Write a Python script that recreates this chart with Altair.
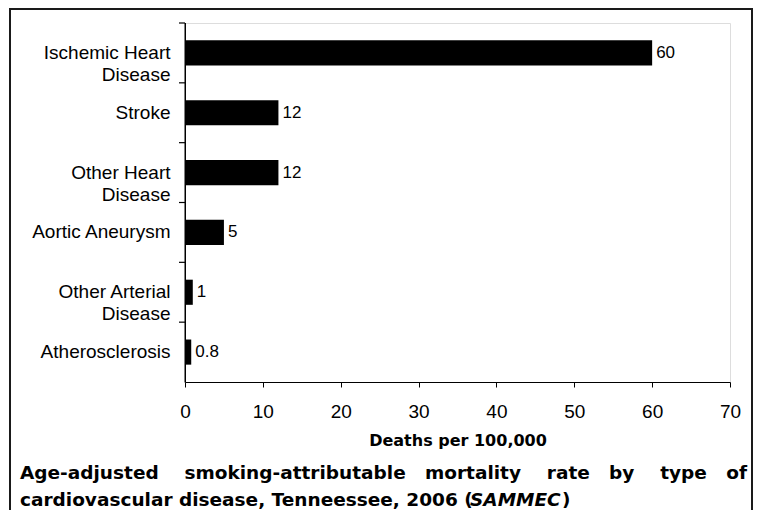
import altair as alt
import pandas as pd

categories = ["Ischemic Heart|Disease", "Stroke", "Other Heart|Disease",
              "Aortic Aneurysm", "Other Arterial|Disease", "Atherosclerosis"]
rates = [60, 12, 12, 5, 1, 0.8]
x_ticks = [0, 10, 20, 30, 40, 50, 60, 70]

x_title = "Deaths per 100,000"
title_line1 = ("Age-adjusted\u00a0\u00a0\u00a0\u00a0smoking-attributable\u00a0\u00a0\u00a0mortality"
               "\u00a0\u00a0\u00a0\u00a0rate\u00a0\u00a0\u00a0by\u00a0\u00a0\u00a0\u00a0type\u00a0\u00a0\u00a0of")
title_line2_a = "cardiovascular disease, Tenneessee, 2006 ("
title_line2_b = "SAMMEC"
title_line2_c = ")"

df = pd.DataFrame({"cause": categories, "rate": rates})
one = alt.Data(values=[{"k": 1}])

FONT = "Liberation Sans"
TFONT = "DejaVu Sans"

PLOT_H = 359
N = len(categories)
P_IN = 0.58
STEP = PLOT_H / N

y_scale = alt.Scale(paddingInner=P_IN, paddingOuter=P_IN / 2)

y_enc = alt.Y(
    "cause:N", sort=None, title=None, scale=y_scale,
    axis=alt.Axis(
        labelExpr="split(datum.label, '|')", labelFont=FONT, labelFontSize=19,
        labelColor="black", labelLineHeight=22, labelPadding=15, ticks=False,
        domain=False, labelAlign="right", labelBaseline="middle", grid=False,
    ),
)
x_enc = alt.X(
    "rate:Q", title=x_title,
    scale=alt.Scale(domain=[0, 70], nice=False),
    axis=alt.Axis(
        values=x_ticks, labelFont=FONT, labelFontSize=19, labelColor="black",
        labelPadding=15, tickSize=5, tickColor="black", domainColor="black",
        titleFont=TFONT, titleFontSize=16, titleFontWeight="bold", titleColor="black",
        titleY=63, titleBaseline="alphabetic", grid=False, labelFlush=False,
    ),
)

bars = alt.Chart(df).mark_bar(color="black").encode(y=y_enc, x=x_enc)
labels = alt.Chart(df).mark_text(
    align="left", baseline="middle", dx=4, font=FONT, fontSize=17, color="black"
).encode(y=alt.Y("cause:N", sort=None), x="rate:Q", text=alt.Text("rate:Q", format=".1~f"))

# y-axis line (thin filled rect) and category separator ticks
y_domain = alt.Chart(one).mark_rect(color="black", strokeWidth=0).encode(
    x=alt.value(-0.5), x2=alt.value(1), y=alt.value(0), y2=alt.value(PLOT_H + 0.5)
)
y_ticks = alt.Chart(df).mark_rule(color="black", strokeWidth=1.2, yOffset=-STEP * P_IN / 2).encode(
    y=alt.Y("cause:N", sort=None, bandPosition=0), x=alt.value(-6), x2=alt.value(0)
)

border = alt.Chart(one).mark_rect(
    fill="white", fillOpacity=0, stroke="#1a1a1a", strokeWidth=2
).encode(x=alt.value(-175), x2=alt.value(567), y=alt.value(-14), y2=alt.value(510))

t1 = alt.Chart(one).mark_text(
    align="left", baseline="alphabetic", font=TFONT, fontSize=18.5, fontWeight="bold", color="black"
).encode(x=alt.value(-165), y=alt.value(456), text=alt.value(title_line1))
t2a = alt.Chart(one).mark_text(
    align="left", baseline="alphabetic", font=TFONT, fontSize=18.5, fontWeight="bold", color="black"
).encode(x=alt.value(-165), y=alt.value(483), text=alt.value(title_line2_a))
t2b = alt.Chart(one).mark_text(
    align="left", baseline="alphabetic", font=TFONT, fontSize=18.5, fontWeight="bold",
    fontStyle="italic", color="black"
).encode(x=alt.value(285), y=alt.value(483), text=alt.value(title_line2_b))
t2c = alt.Chart(one).mark_text(
    align="left", baseline="alphabetic", font=TFONT, fontSize=18.5, fontWeight="bold", color="black"
).encode(x=alt.value(377), y=alt.value(483), text=alt.value(title_line2_c))

chart = alt.layer(bars, labels, y_domain, y_ticks, border, t1, t2a, t2b, t2c).properties(
    width=545, height=PLOT_H,
    autosize=alt.AutoSizeParams(type="none"),
    padding={"left": 177, "top": 15, "right": 24, "bottom": 128},
).configure_view(stroke=None).configure(background="white")

chart.save("out.html", embed_options={"renderer": "svg", "actions": False})
